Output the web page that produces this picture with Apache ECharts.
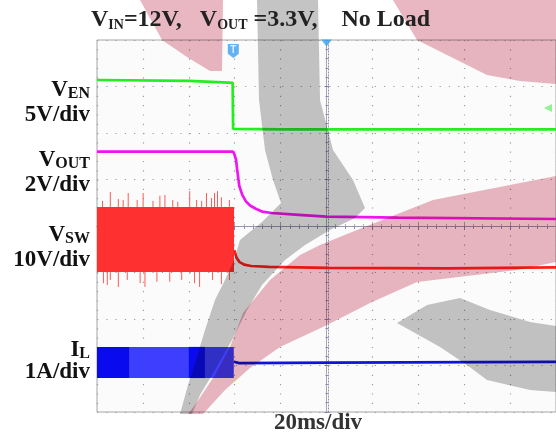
<!DOCTYPE html>
<html>
<head>
<meta charset="utf-8">
<style>
html, body { margin: 0; padding: 0; background: #fff; }
#chart { width: 556px; height: 436px; }
</style>
<script src="https://cdn.jsdelivr.net/npm/echarts@6/dist/echarts.min.js"></script>
</head>
<body>
<div id="chart"></div>
<script>
// time in ms (20 ms/div, 10 div), vertical in screen divisions (8 div, 0 = centre)
const timeRange = [-100, 100];
const divRange = [-4, 4];
const triggerTime = -40.6;
const triggerLevel = 2.54;

// V_EN, 5V/div
const ven = [[-100, 3.14], [-60, 3.12], [-45, 3.09], [-40.9, 3.08], [-40.7, 2.09], [-20, 2.08], [40, 2.08], [100, 2.08]];

// V_OUT, 2V/div
const vout = [
  [-100, 1.60], [-40.8, 1.60], [-40.2, 1.55], [-39.4, 1.42], [-38.9, 1.20], [-38.0, 0.86],
  [-36.7, 0.67], [-35.1, 0.53], [-33.3, 0.44], [-30.8, 0.37], [-28.1, 0.31], [-23.8, 0.28],
  [-12.1, 0.24], [0, 0.20], [31.1, 0.18], [100, 0.15]
];

// V_SW, 10V/div : switching band [tStart, tEnd, top, bottom], spikes [t, peak], tail after turn-off
const vswBand = [[-100, -40.3, 0.41, -0.99]];
const vswSpikesUp = [
  [-97.6, 0.54], [-94.2, 0.73], [-90.7, 0.58], [-88.6, 0.56], [-86.4, 0.71], [-82.5, 0.56],
  [-79.9, 0.71], [-75.6, 0.54], [-72.6, 0.65], [-70.4, 0.67], [-67.0, 0.56], [-64.8, 0.52],
  [-59.6, 0.75], [-56.6, 0.56], [-54.4, 0.54], [-52.3, 0.71], [-50.1, 0.60], [-48.8, 0.71],
  [-47.5, 0.75], [-45.8, 0.62], [-42.3, 0.56]
];
const vswSpikesDown = [
  [-97.2, -1.23], [-95.5, -1.27], [-94.2, -1.16], [-90.7, -1.31], [-86.8, -1.16], [-81.2, -1.23],
  [-79.1, -1.31], [-73.9, -1.20], [-68.3, -1.20], [-63.1, -1.16], [-57.5, -1.23], [-55.3, -1.31],
  [-49.7, -1.16], [-45.8, -1.25], [-42.3, -1.16]
];
const vswTail = [
  [-40.2, -0.52], [-39.3, -0.67], [-38.0, -0.77], [-35.9, -0.83], [-32.8, -0.86], [-25.1, -0.88],
  [0.9, -0.90], [52.7, -0.91], [100, -0.89]
];

// I_L, 1A/div : ripple band, denser stretches of the band, tail after turn-off
const ilBand = [[-100, -40.4, -2.60, -3.27]];
const ilDense = [[-100, -86], [-60, -53]];
const ilTail = [[-40.4, -2.92], [-38.0, -2.95], [2.2, -2.94], [98.5, -2.92], [100, -2.92]];

const channelNames = [['V', 'EN'], ['V', 'OUT'], ['V', 'SW'], ['I', 'L']];
const channelScales = ['5V/div', '2V/div', '10V/div', '1A/div'];
const timeScale = '20ms/div';

const SERIF = '"Liberation Serif", "Times New Roman", serif';

function bandItem(color) {
  return function (params, api) {
    const a = api.coord([api.value(0), api.value(2)]);
    const b = api.coord([api.value(1), api.value(3)]);
    return {
      type: 'rect',
      shape: { x: a[0], y: a[1], width: b[0] - a[0], height: b[1] - a[1] },
      style: { fill: color }
    };
  };
}

function spikeItem(color) {
  return function (params, api) {
    const a = api.coord([api.value(0), api.value(1)]);
    const b = api.coord([api.value(0), api.value(2)]);
    return {
      type: 'line',
      shape: { x1: a[0], y1: a[1], x2: b[0], y2: b[1] },
      style: { stroke: color, lineWidth: 1 }
    };
  };
}

function trace(data, color) {
  return {
    type: 'line', data: data, showSymbol: false, silent: true,
    lineStyle: { color: color, width: 2.7 }
  };
}

function edgeAxis(extra) {
  return Object.assign({
    type: 'value',
    axisLabel: { show: false },
    axisLine: { show: true, lineStyle: { color: '#a6a6a6', width: 1 } },
    axisTick: { show: true, inside: true, length: 4, lineStyle: { color: '#a6a6a6' } },
    minorTick: { show: true, splitNumber: 5, length: 2, lineStyle: { color: '#b4b4b4' } },
    splitLine: { show: false }
  }, extra);
}

function centreAxis(extra) {
  return Object.assign({
    type: 'value',
    axisLabel: { show: false },
    axisLine: { show: true, lineStyle: { color: '#8c8cb4', width: 1, type: [1, 2] } },
    axisTick: { show: true, length: 4, lineStyle: { color: '#7c7cb8' } },
    minorTick: { show: true, splitNumber: 5, length: 3, lineStyle: { color: '#8c8cc0' } },
    splitLine: { show: false }
  }, extra);
}

const xBase = { min: timeRange[0], max: timeRange[1], interval: 20 };
const yBase = { min: divRange[0], max: divRange[1], interval: 1 };

// background watermark shapes (pixel positions)
const wmPink = '#e9b7c1';
const wmGray = '#c4c4c4';
const watermark = [
  { fill: wmPink, points: [[140, 0], [223, 0], [222, 71], [210, 71], [187, 57], [162, 40]] },
  { fill: wmPink, points: [[393, 0], [556, 0], [556, 84], [520, 81], [487, 75], [457, 60], [417, 40]] },
  { fill: wmGray, points: [
    [257, 0], [318, 0], [320, 100], [333, 150], [353, 180], [365, 208], [355, 218], [330, 230],
    [305, 245], [285, 260], [262, 285], [247, 310], [232, 340], [215, 370], [200, 395], [192, 414],
    [180, 414], [188, 385], [196, 360], [205, 330], [215, 300], [225, 280], [234, 260], [240, 240],
    [262, 222], [281, 203], [273, 180], [265, 150], [259, 100]
  ] },
  { fill: wmPink, points: [
    [556, 176], [433, 200], [357, 230], [320, 245], [300, 255], [270, 280], [243, 313], [230, 347],
    [215, 375], [195, 405], [188, 414], [203, 414], [225, 390], [250, 368], [280, 347], [327, 325],
    [370, 303], [417, 282], [517, 270], [556, 262]
  ] },
  { fill: wmGray, points: [
    [397, 323], [427, 305], [460, 298], [490, 310], [530, 322], [556, 326], [556, 392], [530, 390],
    [487, 380], [467, 365], [440, 347]
  ] }
];

function richLabel(x, y, main, sub, mainSize, subSize, align, color) {
  return {
    type: 'text', x: x, y: y, z: 120, silent: true,
    style: {
      text: '{v|' + main + '}{s|' + sub + '}',
      align: align, textAlign: align, verticalAlign: 'bottom', textVerticalAlign: 'bottom',
      rich: {
        v: { font: 'bold ' + mainSize + 'px ' + SERIF, fill: color, verticalAlign: 'bottom' },
        s: { font: 'bold ' + subSize + 'px ' + SERIF, fill: color, verticalAlign: 'bottom' }
      }
    }
  };
}

function plainLabel(x, y, text, size, align, color) {
  return {
    type: 'text', x: x, y: y, z: 120, silent: true,
    style: {
      text: text, font: 'bold ' + size + 'px ' + SERIF, fill: color,
      align: align, textAlign: align, verticalAlign: 'bottom', textVerticalAlign: 'bottom'
    }
  };
}

const labelBaselines = [[97, 122], [167, 192], [242, 267], [357, 379]];
const labels = [];
channelNames.forEach((n, i) => {
  labels.push(richLabel(90, labelBaselines[i][0] + 5, n[0], n[1], 23, 16, 'right', '#111'));
  labels.push(plainLabel(90, labelBaselines[i][1] + 5, channelScales[i], 23, 'right', '#111'));
});

const title = {
  type: 'text', x: 91, y: 32, z: 120, silent: true,
  style: {
    text: '{v|V}{s|IN}{v|=12V,   V}{s|OUT}{v| =3.3V,    No Load}',
    align: 'left', textAlign: 'left', verticalAlign: 'bottom', textVerticalAlign: 'bottom',
    rich: {
      v: { font: 'bold 24px ' + SERIF, fill: '#222', verticalAlign: 'bottom' },
      s: { font: 'bold 14px ' + SERIF, fill: '#222', verticalAlign: 'bottom' }
    }
  }
};

const chart = echarts.init(document.getElementById('chart'));
chart.setOption({
  animation: false,
  backgroundColor: '#fff',
  grid: {
    left: 97, top: 40, width: 463, height: 372,
    show: true, backgroundColor: '#fbfbfb', borderColor: '#a6a6a6', borderWidth: 1
  },
  xAxis: [
    edgeAxis(Object.assign({ position: 'bottom',
      splitLine: { show: true, lineStyle: { color: '#9c9c9c', width: 1.2, type: [1.2, 8.1] } } }, xBase)),
    edgeAxis(Object.assign({ position: 'top' }, xBase)),
    centreAxis(Object.assign({ position: 'bottom', offset: -186 }, xBase))
  ],
  yAxis: [
    edgeAxis(Object.assign({ position: 'left',
      splitLine: { show: true, lineStyle: { color: '#9c9c9c', width: 1.2, type: [1.2, 8.06] } } }, yBase)),
    centreAxis(Object.assign({ position: 'left', offset: -231.5 }, yBase))
  ],
  series: [
    {
      type: 'custom', renderItem: bandItem('#ff3030'), silent: true,
      encode: { x: [0, 1], y: [2, 3] }, data: vswBand
    },
    {
      type: 'custom', renderItem: spikeItem('#ff5a5a'), silent: true,
      encode: { x: 0, y: [1, 2] },
      data: vswSpikesUp.map(d => [d[0], vswBand[0][2], d[1]])
    },
    {
      type: 'custom', renderItem: spikeItem('#ff5a5a'), silent: true,
      encode: { x: 0, y: [1, 2] },
      data: vswSpikesDown.map(d => [d[0], vswBand[0][3], d[1]])
    },
    {
      type: 'custom', renderItem: bandItem('#3e3eff'), silent: true,
      encode: { x: [0, 1], y: [2, 3] }, data: ilBand
    },
    {
      type: 'custom', renderItem: bandItem('#0a0aee'), silent: true,
      encode: { x: [0, 1], y: [2, 3] },
      data: ilDense.map(d => [d[0], d[1], ilBand[0][2], ilBand[0][3]])
    },
    trace(ven, '#22ee22'),
    trace(vout, '#ee16ee'),
    trace(vswTail, '#ff1e1e'),
    trace(ilTail, '#1212dd'),
    {
      type: 'scatter', silent: true, clip: false,
      data: [[triggerTime, divRange[1]]],
      symbol: 'path://M0,0 L10,0 L10,9 L5,13 L0,9 Z', symbolSize: [11, 14], symbolOffset: [0, 11],
      itemStyle: { color: '#3c9ff0' },
      label: { show: true, position: 'inside', formatter: 'T', color: '#fff', fontWeight: 'bold', fontSize: 10, offset: [0, -1] }
    },
    {
      type: 'scatter', silent: true, clip: false,
      data: [[0, divRange[1]]],
      symbol: 'triangle', symbolRotate: 180, symbolSize: [11, 7], symbolOffset: [0, 3],
      itemStyle: { color: '#3aa2f2' }
    },
    {
      type: 'scatter', silent: true, clip: false,
      data: [[timeRange[1], triggerLevel]],
      symbol: 'triangle', symbolRotate: 90, symbolSize: [8, 8], symbolOffset: [-8, 0],
      itemStyle: { color: '#7aee7a' }
    }
  ],
  graphic: watermark.map(w => ({
    type: 'polygon', z: 100, silent: true,
    shape: { points: w.points },
    style: { fill: w.fill, blend: 'multiply' }
  })).concat(labels, [title, plainLabel(318, 435, timeScale, 23, 'center', '#333')])
});
</script>
</body>
</html>
